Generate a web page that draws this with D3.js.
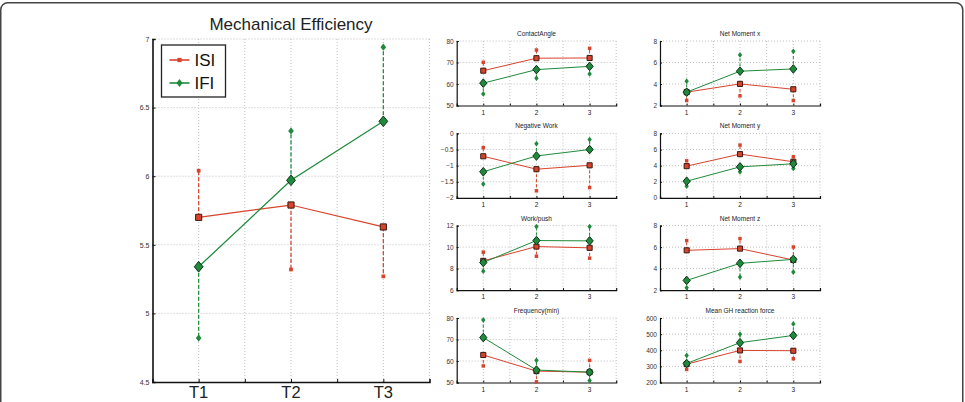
<!DOCTYPE html>
<html>
<head>
<meta charset="utf-8">
<script src="https://cdn.jsdelivr.net/npm/d3@7"></script>
<style>
  body { margin: 0; background: #fff; }
  svg { font-family: "Liberation Sans", Arial, sans-serif; }
</style>
</head>
<body>
<svg id="chart" width="965" height="402"></svg>
<script>
// main panel
const mainLabels = ["T1", "T2", "T3"];
const mainTicks = [4.5, 5, 5.5, 6, 6.5, 7];
const mainISI = [5.70, 5.79, 5.63];
const mainISIEnd = [6.04, 5.32, 5.27];
const mainIFI = [5.34, 5.97, 6.40];
const mainIFIEnd = [4.82, 6.33, 6.94];

// small panels (column by column)
const panelTitles = ["ContactAngle", "Negative Work", "Work/push", "Frequency(min)",
  "Net Moment x", "Net Moment y", "Net Moment z", "Mean GH reaction force"];
const panelTicks = [
  [50, 60, 70, 80], [-2, -1.5, -1, -0.5, 0], [6, 8, 10, 12], [50, 60, 70, 80],
  [2, 4, 6, 8], [0, 2, 4, 6, 8], [2, 4, 6, 8], [200, 300, 400, 500, 600]];
const isiMeans = [
  [66.2, 72.0, 72.1], [-0.71, -1.11, -0.99], [8.72, 10.05, 9.93], [62.8, 55.3, 54.8],
  [3.24, 4.01, 3.51], [3.94, 5.43, 4.48], [5.70, 5.86, 4.80], [314, 399, 397]];
const isiEnds = [
  [70.1, 75.8, 76.6], [-0.44, -1.78, -1.68], [9.53, 9.15, 8.97], [57.7, 50.3, 60.3],
  [2.46, 2.90, 2.46], [4.6, 6.55, 5.1], [6.60, 6.79, 6.01], [281, 331, 347]];
const ifiMeans = [
  [60.4, 66.7, 68.2], [-1.19, -0.70, -0.50], [8.57, 10.61, 10.58], [70.9, 55.8, 54.8],
  [3.24, 5.19, 5.40], [2.07, 3.85, 4.23], [2.90, 4.49, 4.86], [318, 447, 492]];
const ifiEnds = [
  [55.4, 62.7, 64.7], [-1.57, -0.32, -0.19], [7.76, 11.91, 11.91], [79.1, 60.3, 50.9],
  [4.26, 6.70, 7.04], [1.45, 3.23, 3.65], [2.22, 3.21, 3.68], [368, 500, 563]];

const RED = "#d8432c", RED_EDGE = "#3b1a12",
  GREEN = "#1f8a3b", GREEN_EDGE = "#0c3318",
  GRID = "#b8b8b8";

const svg = d3.select("#chart");

svg.append("rect")
  .attr("x", 0.75).attr("y", 2.75)
  .attr("width", 962).attr("height", 430)
  .attr("rx", 7)
  .attr("fill", "none").attr("stroke", "#444").attr("stroke-width", 1.5);

const squareSym = s => d3.symbol(d3.symbolSquare, s);
const diamond = (w, h) => `M0,${-h}L${w},0L0,${h}L${-w},0Z`;

function drawPanel(g, o) {
  const x = d3.scaleLinear().domain([0.5, 3.5]).range([0, o.w]);
  const y = d3.scaleLinear().domain(d3.extent(o.ticks)).range([o.h, 0]);
  const xs = [1, 2, 3];

  // dotted grid
  const gridX = [1, 1.5, 2, 2.5, 3, 3.5];
  g.selectAll(".gx").data(gridX).join("line")
    .attr("x1", d => x(d)).attr("x2", d => x(d))
    .attr("y1", 0).attr("y2", o.h)
    .attr("stroke", GRID).attr("stroke-width", 0.9).attr("stroke-dasharray", "1,2");
  g.selectAll(".gy").data(o.ticks.slice(1)).join("line")
    .attr("x1", 0).attr("x2", o.w)
    .attr("y1", d => y(d)).attr("y2", d => y(d))
    .attr("stroke", GRID).attr("stroke-width", 0.9).attr("stroke-dasharray", "1,2");

  // axes
  const ax = g.append("g").attr("transform", `translate(0,${o.h})`)
    .call(d3.axisBottom(x).tickValues(gridX.filter(d => d < 3.5)).tickSize(-o.tick).tickFormat(""));
  const ay = g.append("g")
    .call(d3.axisLeft(y).tickValues(o.ticks).tickSize(-o.tick).tickFormat(d => d3.format("")(d)).tickPadding(3));
  [ax, ay].forEach(a => {
    a.select(".domain").attr("stroke", "#111").attr("stroke-width", o.axisW);
    a.selectAll(".tick line").attr("stroke", "#111");
  });
  ay.selectAll("text").attr("font-size", o.yFont).attr("fill", "#333");

  g.selectAll(".xl").data(xs).join("text")
    .attr("x", (d, i) => x(d)).attr("y", o.h + o.xLabelDy)
    .attr("text-anchor", "middle").attr("font-size", o.xFont).attr("fill", "#222")
    .text((d, i) => o.labels[i]);

  g.append("text").attr("x", o.w / 2).attr("y", o.titleDy)
    .attr("text-anchor", "middle").attr("font-size", o.titleFont).attr("fill", "#222")
    .text(o.title);

  const series = [
    { means: o.isi, ends: o.isiEnd, color: RED, edge: RED_EDGE, type: "sq" },
    { means: o.ifi, ends: o.ifiEnd, color: GREEN, edge: GREEN_EDGE, type: "di" }
  ];
  const line = d3.line().x((d, i) => x(xs[i])).y(d => y(d));
  series.forEach(s => {
    // one sided error bars
    g.selectAll(null).data(s.means).join("line")
      .attr("x1", (d, i) => x(xs[i])).attr("x2", (d, i) => x(xs[i]))
      .attr("y1", d => y(d)).attr("y2", (d, i) => y(s.ends[i]))
      .attr("stroke", s.color).attr("stroke-width", o.lineW)
      .attr("stroke-dasharray", o.dash);
    g.selectAll(null).data(s.ends).join("path")
      .attr("transform", (d, i) => `translate(${x(xs[i])},${y(d)})`)
      .attr("d", s.type === "sq" ? squareSym(o.endSq)() : diamond(o.endDi, o.endDi * 1.3))
      .attr("fill", s.color);
  });
  series.forEach(s => {
    g.append("path").datum(s.means)
      .attr("d", line).attr("fill", "none")
      .attr("stroke", s.color).attr("stroke-width", o.lineW);
  });
  series.forEach(s => {
    g.selectAll(null).data(s.means).join("path")
      .attr("transform", (d, i) => `translate(${x(xs[i])},${y(d)})`)
      .attr("d", s.type === "sq" ? squareSym(o.meanSq)() : diamond(o.meanDi, o.meanDi * 1.2))
      .attr("fill", s.color).attr("stroke", s.edge).attr("stroke-width", 1);
  });
}

// big panel
const big = svg.append("g").attr("transform", "translate(152.5,39)");
drawPanel(big, {
  w: 277, h: 343, ticks: mainTicks, labels: mainLabels, title: "Mechanical Efficiency",
  isi: mainISI, isiEnd: mainISIEnd, ifi: mainIFI, ifiEnd: mainIFIEnd,
  tick: 3, axisW: 1.6, yFont: 7, xFont: 16.5, xLabelDy: 16, titleDy: -9, titleFont: 17,
  lineW: 1.25, dash: "4,2", endSq: 14, endDi: 2.8, meanSq: 38, meanDi: 4.4
});

// legend
const leg = big.append("g").attr("transform", "translate(9,6)");
leg.append("rect").attr("width", 64).attr("height", 52)
  .attr("fill", "#fff").attr("stroke", "#222").attr("stroke-width", 1.3);
[{ n: "ISI", c: RED, t: "sq" }, { n: "IFI", c: GREEN, t: "di" }].forEach((d, i) => {
  const yy = 15 + i * 23;
  leg.append("line").attr("x1", 8).attr("x2", 28).attr("y1", yy).attr("y2", yy)
    .attr("stroke", d.c).attr("stroke-width", 1.6);
  leg.append("path").attr("transform", `translate(18,${yy})`)
    .attr("d", d.t === "sq" ? squareSym(18)() : diamond(3, 4)).attr("fill", d.c);
  leg.append("text").attr("x", 33).attr("y", yy + 6)
    .attr("font-size", 17).attr("fill", "#111").text(d.n);
});

// small panels
const colX = [456.7, 660];
const colW = [159.5, 160];
const rowY = [41, 133.4, 225.6, 318];
panelTitles.forEach((t, k) => {
  const c = Math.floor(k / 4), r = k % 4;
  const g = svg.append("g").attr("transform", `translate(${colX[c]},${rowY[r]})`);
  drawPanel(g, {
    w: colW[c], h: 64.5, ticks: panelTicks[k], labels: ["1", "2", "3"], title: t,
    isi: isiMeans[k], isiEnd: isiEnds[k], ifi: ifiMeans[k], ifiEnd: ifiEnds[k],
    tick: 2, axisW: 1.2, yFont: 6.5, xFont: 6.5, xLabelDy: 9, titleDy: -5, titleFont: 6.5,
    lineW: 1, dash: "3,2", endSq: 12, endDi: 2.2, meanSq: 26, meanDi: 3.6
  });
});
</script>
</body>
</html>
